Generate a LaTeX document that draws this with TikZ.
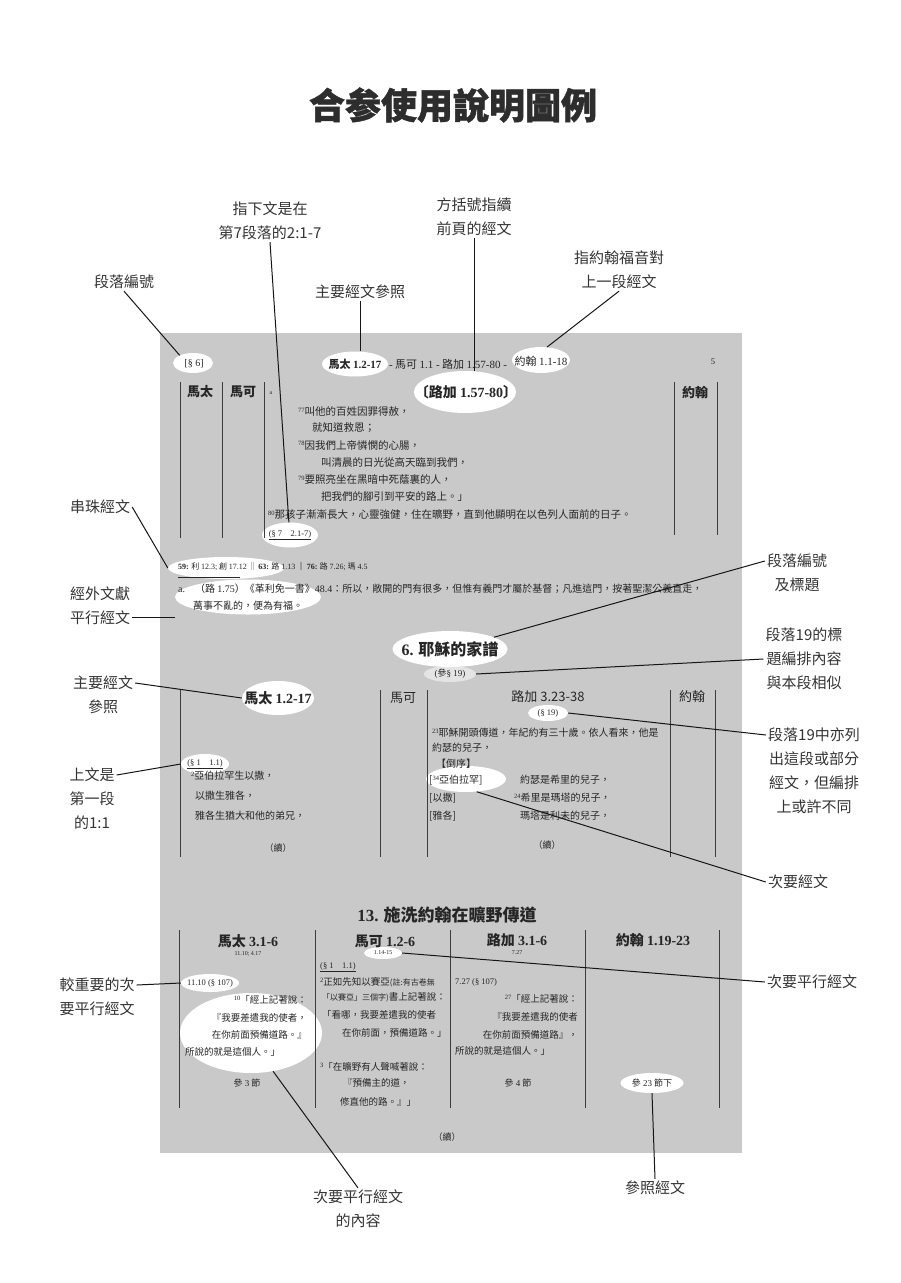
\documentclass[tikz,border=0pt]{standalone}
\usepackage{fontspec}
\setmainfont{Noto Sans CJK TC}
\newfontfamily\tms{Liberation Serif}
\newfontfamily\titlefont{Noto Sans CJK TC}[FakeBold=1.2]
\usetikzlibrary{shapes.geometric}
\definecolor{boxgray}{RGB}{201,201,201}
\definecolor{lblc}{RGB}{52,52,52}
\definecolor{txtc}{RGB}{38,38,38}
\definecolor{linec}{RGB}{22,22,22}
\definecolor{rulec}{RGB}{60,60,60}
\definecolor{titlec}{RGB}{45,45,45}
\newcommand\vn[1]{\raisebox{0.6ex}{\fontsize{6.5}{7}\selectfont\tms #1}}
\newcommand\tm[1]{{\tms #1}}
\tikzset{
  lbl/.style={font=\fontsize{15}{24}\selectfont, text=lblc, align=center, inner sep=2pt},
  conn/.style={draw=linec, line width=1pt},
  oval/.style={ellipse, fill=white, draw=none, inner sep=0pt},
  colrule/.style={draw=rulec, line width=1pt},
  vt/.style={font=\fontsize{10.5}{12}\selectfont, text=txtc, inner sep=0pt, anchor=west},
  vts/.style={font=\fontsize{10}{12}\selectfont, text=txtc, inner sep=0pt, anchor=west},
  vtb/.style={font=\fontsize{9.5}{11}\selectfont, text=txtc, inner sep=0pt, anchor=west},
  vtbr/.style={vtb, anchor=east},
  hd/.style={font=\fontsize{13}{15}\selectfont, text=txtc, inner sep=0pt},
  hdb/.style={font=\fontsize{14}{16}\selectfont\bfseries, text=txtc, inner sep=0pt},
  refs/.style={font=\fontsize{8.5}{10}\selectfont\tms, text=txtc, inner sep=0pt},
  tinyref/.style={font=\fontsize{6}{7}\selectfont\tms, text=txtc, inner sep=0pt},
  smallc/.style={font=\fontsize{9}{10}\selectfont, text=txtc, inner sep=0pt},
  sect/.style={font=\fontsize{16}{18}\selectfont\bfseries, text=txtc, inner sep=0pt},
}
\begin{document}
\begin{tikzpicture}[x=1pt,y=-1pt]
\useasboundingbox (0,0) rectangle (900,1283);
\fill[white] (0,0) rectangle (900,1283);

% title
\node[font=\fontsize{36}{40}\selectfont\titlefont\bfseries, text=titlec, inner sep=0pt] (title) at (453,105) {合参使用說明圖例};

% outside labels
\node[lbl] (p1) at (124,282) {段落編號};
\node[lbl] (p2) at (270,221) {指下文是在\\第7段落的2:1-7};
\node[lbl] (p3) at (360,292) {主要經文參照};
\node[lbl] (p4) at (474,217) {方括號指續\\前頁的經文};
\node[lbl] (p5) at (619,270) {指約翰福音對\\上一段經文};
\node[lbl] (l1) at (100,507) {串珠經文};
\node[lbl] (l2) at (100,606) {經外文獻\\平行經文};
\node[lbl] (l3) at (103,695) {主要經文\\參照};
\node[lbl] (l4) at (92,799) {上文是\\第一段\\的1:1};
\node[lbl] (l5) at (97,997) {較重要的次\\要平行經文};
\node[lbl] (r1) at (797,573) {段落編號\\及標題};
\node[lbl] (r2) at (804,659) {段落19的標\\題編排內容\\與本段相似};
\node[lbl] (r3) at (814,771) {段落19中亦列\\出這段或部分\\經文，但編排\\上或許不同};
\node[lbl] (r4) at (798,882) {次要經文};
\node[lbl] (r5) at (812,982) {次要平行經文};
\node[lbl] (b1) at (358,1209) {次要平行經文\\的內容};
\node[lbl] (b2) at (655,1188) {參照經文};

% gray page
\fill[boxgray] (160,333) rectangle (742,1153);

% white ovals
\node[oval, minimum width=40pt, minimum height=20pt] (e1) at (193,363) {};
\node[oval, minimum width=66pt, minimum height=25pt] (e2) at (355,364) {};
\node[oval, minimum width=58pt, minimum height=26pt] (e3) at (541,360) {};
\node[oval, minimum width=102pt, minimum height=42pt] (e4) at (465,392) {};
\node[oval, minimum width=56pt, minimum height=25pt] (e5) at (290,535) {};
\node[oval, minimum width=116pt, minimum height=22pt] (e6) at (226,568) {};
\node[oval, minimum width=146pt, minimum height=35pt] (e7) at (248,597) {};
\node[oval, minimum width=115pt, minimum height=36pt] (e8) at (450,649) {};
\node[oval, fill opacity=0.5, minimum width=52pt, minimum height=16pt] (e9) at (450,674) {};
\node[oval, minimum width=72pt, minimum height=34pt] (e10) at (278,698) {};
\node[oval, minimum width=40pt, minimum height=16pt] (e11) at (548,713) {};
\node[oval, minimum width=80pt, minimum height=26pt] (e12) at (466,779) {};
\node[oval, minimum width=48pt, minimum height=20pt] (e13) at (205,764) {};
\node[oval, minimum width=38pt, minimum height=12pt] (e14) at (383,953) {};
\node[oval, minimum width=58pt, minimum height=18pt] (e15) at (210,983) {};
\node[oval, minimum width=142pt, minimum height=80pt] (e16) at (251,1033) {};
\node[oval, minimum width=63pt, minimum height=20pt] (e17) at (652,1083) {};

% column rules
\foreach \cx in {180,222,264} \draw[colrule] (\cx,382) -- (\cx,538);
\foreach \cx in {674,717} \draw[colrule] (\cx,382) -- (\cx,535);
\foreach \cx in {180,380,427,670,715} \draw[colrule] (\cx,690) -- (\cx,857);
\foreach \cx in {179,315,450,585,719} \draw[colrule] (\cx,930) -- (\cx,1108);

% ---- top section ----
\node[refs, font=\fontsize{10}{12}\selectfont\tms] (s6) at (194,364) {[§ 6]};
\node[font=\fontsize{11}{12}\selectfont\bfseries, text=txtc, inner sep=0pt] (h1) at (355,364) {馬太 \tm{1.2-17}};
\node[font=\fontsize{11}{12}\selectfont, text=txtc, inner sep=0pt] (h2) at (448,364) {\tm{-} 馬可 \tm{1.1 -} 路加 \tm{1.57-80 -}};
\node[font=\fontsize{11}{12}\selectfont, text=txtc, inner sep=0pt] (h3) at (541,361) {約翰 \tm{1.1-18}};
\node[refs] (pg) at (713,362) {5};
\node[hd, font=\fontsize{13}{15}\selectfont\bfseries] (c1) at (200,392) {馬太};
\node[hd, font=\fontsize{13}{15}\selectfont\bfseries] (c2) at (243,392) {馬可};
\node[hd, font=\fontsize{13}{15}\selectfont\bfseries] (c3) at (695,392) {約翰};
\node[tinyref] (amark) at (271,393) {a};
\node[hdb] (h4) at (466,392) {〔路加 \tm{1.57-80}〕};
\node[vt] (v1) at (298,412) {\vn{77}叫他的百姓因罪得赦，};
\node[vt] (v2) at (312,428) {就知道救恩；};
\node[vt] (v3) at (298,445) {\vn{78}因我們上帝憐憫的心腸，};
\node[vt] (v4) at (321,463) {叫清晨的日光從高天臨到我們，};
\node[vt] (v5) at (298,480) {\vn{79}要照亮坐在黑暗中死蔭裏的人，};
\node[vt] (v6) at (321,497) {把我們的腳引到平安的路上。」};
\node[vt] (v7) at (268,515) {\vn{80}那孩子漸漸長大，心靈強健，住在曠野，直到他顯明在以色列人面前的日子。};
\node[refs] (s7) at (290,535) {\underline{(§ 7\quad 2.1-7)}};

% footnotes
\node[font=\fontsize{8}{10}\selectfont, text=txtc, inner sep=0pt, anchor=west] (f1) at (178,567) {\tm{\textbf{59:}} 利 \tm{12.3;} 創 \tm{17.12} ‖ \tm{\textbf{63:}} 路 \tm{1.13} ‖ \tm{\textbf{76:}} 路 \tm{7.26;} 瑪 \tm{4.5}};
\draw[draw=txtc, line width=0.6pt] (178,577) -- (240,577);
\node[font=\fontsize{10}{12}\selectfont, text=txtc, inner sep=0pt, anchor=west] (f2) at (178,589) {\tm{a.}\quad（路 \tm{1.75}）《革利免一書》\tm{48.4}：所以，敞開的門有很多，但惟有義門才屬於基督；凡進這門，按著聖潔公義直走，};
\node[font=\fontsize{10}{12}\selectfont, text=txtc, inner sep=0pt, anchor=west] (f3) at (193,606) {萬事不亂的，便為有福。};

% ---- middle section ----
\node[sect] (t6) at (450,649) {\tm{6.} 耶穌的家譜};
\node[smallc] (s19a) at (450,674) {\tm{(}參\tm{§ 19)}};
\node[hdb] (m1) at (278,698) {馬太 \tm{1.2-17}};
\node[hd] (m2) at (403,698) {馬可};
\node[hd] (m3) at (548,697) {路加 3.23-38};
\node[hd] (m4) at (692,697) {約翰};
\node[refs] (s19b) at (548,713) {(§ 19)};
\node[vts] (lk1) at (432,733) {\vn{23}耶穌開頭傳道，年紀約有三十歲。依人看來，他是};
\node[vts] (lk2) at (432,748) {約瑟的兒子，};
\node[vts] (lk3) at (436,764) {【倒序】};
\node[vts] (lk4) at (429,780) {[\vn{34}亞伯拉罕]};
\node[vts] (lk5) at (520,780) {約瑟是希里的兒子，};
\node[vts] (lk6) at (429,798) {[以撒]};
\node[vts] (lk7) at (514,798) {\vn{24}希里是瑪塔的兒子，};
\node[vts] (lk8) at (429,816) {[雅各]};
\node[vts] (lk9) at (520,816) {瑪塔是利未的兒子，};
\node[smallc] (lk10) at (547,845) {（續）};
\node[refs] (s11) at (205,764) {\underline{(§ 1\quad 1.1)}};
\node[vts] (mt1) at (191,776) {\vn{2}亞伯拉罕生以撒，};
\node[vts] (mt2) at (195,796) {以撒生雅各，};
\node[vts] (mt3) at (195,816) {雅各生猶大和他的弟兄，};
\node[smallc] (mt4) at (278,848) {（續）};

% ---- bottom section ----
\node[sect, font=\fontsize{17}{19}\selectfont\bfseries] (t13) at (447,915) {\tm{13.} 施洗約翰在曠野傳道};
\node[hdb] (bh1) at (248,941) {馬太 \tm{3.1-6}};
\node[tinyref] (bh1s) at (248,954) {11.10; 4.17};
\node[hdb] (bh2) at (385,941) {馬可 \tm{1.2-6}};
\node[tinyref] (bh2s) at (383,953) {1.14-15};
\node[hdb] (bh3) at (517,940) {路加 \tm{3.1-6}};
\node[tinyref] (bh3s) at (517,953) {7.27};
\node[hdb] (bh4) at (653,940) {約翰 \tm{1.19-23}};

\node[refs] (bm0) at (210,983) {11.10 (§ 107)};
\node[vtbr] (bm1) at (307,1000) {\vn{10}「經上記著說：};
\node[vtbr] (bm2) at (307,1018) {『我要差遣我的使者，};
\node[vtbr] (bm3) at (307,1035) {在你前面預備道路。』};
\node[vtb] (bm4) at (185,1052) {所說的就是這個人。」};
\node[smallc] (bm5) at (247,1083) {參 \tm{3} 節};

\node[refs, anchor=west] (bk0) at (320,967) {\underline{(§ 1\quad 1.1)}};
\node[vtb] (bk1) at (320,982) {\vn{2}正如先知以賽亞{\fontsize{8}{9}\selectfont(註:有古卷無}};
\node[vtb] (bk2) at (322,997) {{\fontsize{8}{9}\selectfont「以賽亞」三個字)}書上記著說：};
\node[vtb] (bk3) at (322,1015) {「看哪，我要差遣我的使者};
\node[vtb] (bk4) at (342,1033) {在你前面，預備道路。」};
\node[vtb] (bk5) at (320,1067) {\vn{3}「在曠野有人聲喊著說：};
\node[vtb] (bk6) at (343,1083) {『預備主的道，};
\node[vtb] (bk7) at (340,1102) {修直他的路。』」};

\node[refs, anchor=west] (bl0) at (455,982) {7.27 (§ 107)};
\node[vtbr] (bl1) at (578,999) {\vn{27}「經上記著說：};
\node[vtbr] (bl2) at (578,1017) {『我要差遣我的使者};
\node[vtbr] (bl3) at (578,1035) {在你前面預備道路』，};
\node[vtb] (bl4) at (455,1051) {所說的就是這個人。」};
\node[smallc] (bl5) at (518,1083) {參 \tm{4} 節};
\node[smallc] (bj) at (652,1083) {參 \tm{23} 節下};
\node[smallc] (cont3) at (447,1137) {（續）};

% ---- connectors ----
\draw[conn] (p1.south) -- (e1.150);
\draw[conn] (p2.south) -- (e5.95);
\draw[conn] (p3.south) -- (p3.south |- e2.north);
\draw[conn] (p4.south) -- (p4.south |- e4.north);
\draw[conn] (p5.south) -- (e3.65);
\draw[conn] (l1.east) -- (e6.west);
\draw[conn] ([yshift=-11pt]l2.east) -- ([yshift=-11pt]l2.east -| e7.west);
\draw[conn] ([yshift=12pt]l3.east) -- (e10.west);
\draw[conn] ([yshift=24pt]l4.east) -- (e13.west);
\draw[conn] ([yshift=12pt]l5.east) -- (e15.west);
\draw[conn] ([yshift=12pt]r1.west) -- (e8.15);
\draw[conn] (r2.west) -- (e9.east);
\draw[conn] ([yshift=36pt]r3.west) -- (e11.east);
\draw[conn] (r4.west) -- (e12.-50);
\draw[conn] (r5.west) -- (e14.east);
\draw[conn] (b1.north) -- (e16.-60);
\draw[conn] (b2.north) -- (e17.south);
\end{tikzpicture}
\end{document}
